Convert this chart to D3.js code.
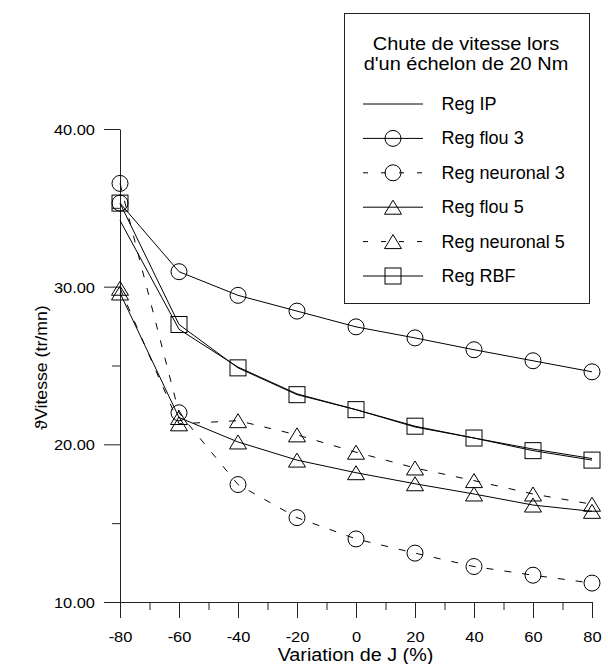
<!DOCTYPE html>
<html><head><meta charset="utf-8">
<script src="https://cdn.jsdelivr.net/npm/d3@7"></script>
<style>body{margin:0;background:#fff} svg text{font-family:Arial,"Liberation Sans",sans-serif;fill:#000}</style>
</head><body><svg id="c" width="608" height="664"></svg>
<script>
// ---- data ----
const xValues = [-80, -60, -40, -20, 0, 20, 40, 60, 80];
const regIP        = [34.2, 27.3, 24.9, 23.2, 22.2, 21.1, 20.4, 19.7, 19.1];
const regFlou3     = [35.3, 30.95, 29.45, 28.45, 27.45, 26.75, 26.0, 25.3, 24.6];
const regNeuronal3 = [36.55, 22.0, 17.45, 15.35, 14.0, 13.1, 12.25, 11.7, 11.2];
const regFlou5     = [29.6, 21.7, 20.15, 19.0, 18.2, 17.5, 16.85, 16.15, 15.75];
const regNeuronal5 = [29.9, 21.3, 21.5, 20.6, 19.5, 18.5, 17.7, 16.85, 16.2];
const regRBF       = [35.3, 27.6, 24.85, 23.15, 22.2, 21.15, 20.4, 19.6, 19.0];
const seriesNames  = ["Reg IP", "Reg flou 3", "Reg neuronal 3", "Reg flou 5", "Reg neuronal 5", "Reg RBF"];
const xTicks = [-80, -60, -40, -20, 0, 20, 40, 60, 80];
const xTickLabels = ["-80", "-60", "-40", "-20", "0", "20", "40", "60", "80"];
const xMinorTicks = [-70, -50, -30, -10, 10, 30, 50, 70];
const yTicks = [10, 20, 30, 40];
const yTickLabels = ["10.00", "20.00", "30.00", "40.00"];
const yMinorTicks = [15, 25, 35];
const legendTitle = ["Chute de vitesse lors", "d'un échelon de 20 Nm"];
const xTitle = "Variation de J (%)";
const yTitle = "ϑVitesse (tr/mn)";

const series = [
  {name: seriesNames[0], values: regIP, dashed: false, marker: null},
  {name: seriesNames[1], values: regFlou3, dashed: false, marker: "circle"},
  {name: seriesNames[2], values: regNeuronal3, dashed: true, marker: "circle"},
  {name: seriesNames[3], values: regFlou5, dashed: false, marker: "triangle"},
  {name: seriesNames[4], values: regNeuronal5, dashed: true, marker: "triangle"},
  {name: seriesNames[5], values: regRBF, dashed: false, marker: "square"}
];

const svg = d3.select("#c");
const x = d3.scaleLinear().domain([-80, 80]).range([120, 592]);
const y = d3.scaleLinear().domain([10, 40]).range([602, 129]);
const DASH = "7,11";
const AX = "#222";

function stretch(sel, k) {
  sel.each(function() {
    const w = this.getComputedTextLength();
    d3.select(this).attr("textLength", w * k).attr("lengthAdjust", "spacingAndGlyphs");
  });
}

// axes
const gx = svg.append("g").attr("transform", `translate(0,${y(10)})`)
  .call(d3.axisBottom(x).tickValues(xTicks).tickSize(16).tickSizeOuter(0)
    .tickFormat((d, i) => xTickLabels[i]));
const gxm = svg.append("g").attr("transform", `translate(0,${y(10)})`)
  .call(d3.axisBottom(x).tickValues(xMinorTicks).tickSize(8).tickFormat(""));
gxm.select(".domain").remove();
const gy = svg.append("g").attr("transform", `translate(${x(-80)},0)`)
  .call(d3.axisLeft(y).tickValues(yTicks).tickSize(16).tickSizeOuter(0).tickPadding(9)
    .tickFormat((d, i) => yTickLabels[i]));
const gym = svg.append("g").attr("transform", `translate(${x(-80)},0)`)
  .call(d3.axisLeft(y).tickValues(yMinorTicks).tickSize(8).tickFormat(""));
gym.select(".domain").remove();
svg.selectAll(".domain").attr("stroke", AX);
svg.selectAll(".tick line").attr("stroke", AX);
svg.selectAll(".tick text").attr("font-size", 15.5)
  .attr("font-family", "Arial, 'Liberation Sans', sans-serif").attr("fill", "#000");
gx.selectAll(".tick text").attr("y", 40).attr("dy", 0);
gy.selectAll(".tick text").attr("dy", "0.36em");
stretch(svg.selectAll(".tick text"), 1.06);

const xt = svg.append("text").attr("x", (x(-80) + x(80)) / 2 - 0.5).attr("y", 661).attr("text-anchor", "middle")
  .attr("font-size", 17.5).text(xTitle);
stretch(xt, 1.13);
const yt = svg.append("text").attr("transform", `translate(47,${(y(10)+y(40))/2 + 2}) rotate(-90)`)
  .attr("text-anchor", "middle").attr("font-size", 17).text(yTitle);
stretch(yt, 1.04);

// markers
function drawMarker(g, type, cx, cy) {
  if (type === "circle") {
    g.append("circle").attr("cx", cx).attr("cy", cy).attr("r", 8)
      .attr("fill", "none").attr("stroke", "#000").attr("stroke-width", 1);
  } else if (type === "square") {
    g.append("rect").attr("x", cx - 8).attr("y", cy - 8).attr("width", 16).attr("height", 16)
      .attr("fill", "none").attr("stroke", "#000").attr("stroke-width", 1);
  } else if (type === "triangle") {
    g.append("path").attr("d", `M${cx},${cy - 7}L${cx + 8.5},${cy + 7}L${cx - 8.5},${cy + 7}Z`)
      .attr("fill", "none").attr("stroke", "#000").attr("stroke-width", 1);
  }
}

const line = d3.line().x((d, i) => x(xValues[i])).y(d => y(d)).curve(d3.curveLinear);
const plot = svg.append("g");
series.forEach(s => {
  plot.append("path").attr("d", line(s.values)).attr("fill", "none").attr("stroke", "#000")
    .attr("stroke-width", 1).attr("stroke-dasharray", s.dashed ? DASH : null);
  if (s.marker) s.values.forEach((v, i) => drawMarker(plot, s.marker, x(xValues[i]), y(v)));
});

// legend
const lg = svg.append("g");
lg.append("rect").attr("x", 344.5).attr("y", 13.5).attr("width", 245).attr("height", 290)
  .attr("fill", "#fff").attr("stroke", "#222").attr("stroke-width", 1);
const lt = lg.selectAll(null).data(legendTitle).enter().append("text")
  .attr("x", 466).attr("y", (d, i) => 49.5 + i * 20)
  .attr("text-anchor", "middle").attr("font-size", 17.5).text(d => d);
stretch(lt, 1.14);
series.forEach((s, i) => {
  const ry = 104 + i * 34.4;
  lg.append("line").attr("x1", 363).attr("x2", 423).attr("y1", ry).attr("y2", ry)
    .attr("stroke", "#000").attr("stroke-width", 1).attr("stroke-dasharray", s.dashed ? "5,13" : null);
  if (s.marker) drawMarker(lg, s.marker, 393, ry);
  const t = lg.append("text").attr("x", 441.5).attr("y", ry + 6).attr("font-size", 17.5).text(s.name);
  stretch(t, 1.03);
});
</script></body></html>
